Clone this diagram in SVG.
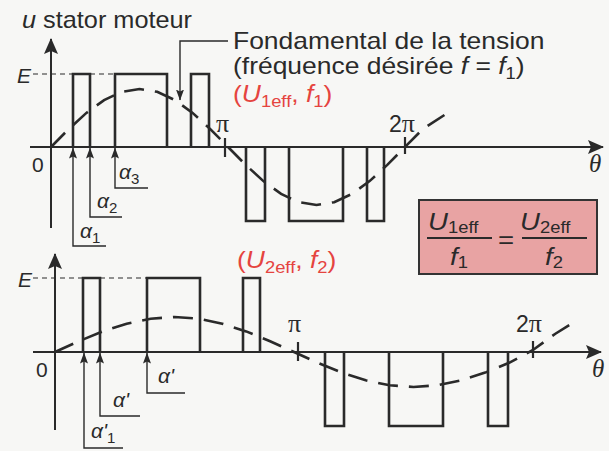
<svg xmlns="http://www.w3.org/2000/svg" width="609" height="451" viewBox="0 0 609 451">
<defs>
<style>
.ax{fill:none;stroke:#2a2a2a;stroke-width:2}
.wave{fill:none;stroke:#2a2a2a;stroke-width:2.6;stroke-linejoin:miter}
.fund{fill:none;stroke:#2a2a2a;stroke-width:2.6;stroke-dasharray:20 11}
.lvl{fill:none;stroke:#2a2a2a;stroke-width:1.2;stroke-dasharray:5 4}
.tick{fill:none;stroke:#2a2a2a;stroke-width:2.2}
.lead{fill:none;stroke:#2a2a2a;stroke-width:1.4}
.t{font-family:"Liberation Sans",Arial,sans-serif;fill:#2a2a2a}
.s{font-family:"Liberation Serif","Times New Roman",serif;fill:#2a2a2a}
.red{fill:#e5443f}
.i{font-style:italic}
</style>
<marker id="arrBig" viewBox="0 0 16 14" refX="15" refY="7" markerWidth="16" markerHeight="14" markerUnits="userSpaceOnUse" orient="auto">
<path d="M0,0 L16,7 L0,14 L3,7 Z" fill="#2a2a2a"/>
</marker>
<marker id="arrSm" viewBox="0 0 11 8" refX="10.5" refY="4" markerWidth="11" markerHeight="8" markerUnits="userSpaceOnUse" orient="auto">
<path d="M0,0 L11,4 L0,8 L2,4 Z" fill="#2a2a2a"/>
</marker>
</defs>
<rect x="0" y="0" width="609" height="451" fill="#f7f7f5"/>

<g id="top-graph">
<g id="top-axes">
<line class="ax" x1="51" y1="228" x2="51" y2="39" marker-end="url(#arrBig)"/>
<line class="ax" x1="30" y1="147" x2="603" y2="147" marker-end="url(#arrBig)"/>
<path class="lvl" d="M33,74 H73 M90,74 H115"/>
<line class="tick" x1="225" y1="138" x2="225" y2="157"/>
<line class="tick" x1="405" y1="137" x2="405" y2="154"/>
</g>
<g id="top-waveform">
<path class="wave" d="M73,147 V74 H90 V147 M115,147 V74 H167 V147 M191,147 V74 H209 V147 M246,147 V221 H265 V147 M289,147 V221 H343 V147 M367,147 V221 H384 V147"/>
</g>
<g id="top-fundamental">
<polyline class="fund" points="51,147 68.7,129.1 86.4,112.9 104.1,100.1 121.8,91.8 139.5,89 157.2,91.8 174.9,100.1 192.6,112.9 210.3,129.1 228,147 245.7,164.9 263.4,181.1 281.1,193.9 298.8,202.2 316.5,205 334.2,202.2 351.9,193.9 369.6,181.1 387.3,164.9 405,147 422.7,129.1 446,114"/>
</g>
<g id="top-labels">
<text class="t" transform="translate(22,28) scale(1.1,1)" font-size="23"><tspan class="i">u</tspan> stator moteur</text>
<text class="t i" x="17" y="83" font-size="21">E</text>
<text class="t" x="32" y="172" font-size="21">0</text>
<text class="s" x="216" y="132" font-size="26">π</text>
<text class="t" x="389" y="132" font-size="23">2<tspan class="s" font-size="26">π</tspan></text>
<text class="s i" x="589" y="172" font-size="25">θ</text>
<text class="t" transform="translate(233,49) scale(1.15,1)" font-size="23">Fondamental de la tension</text>
<text class="t" transform="translate(233,74) scale(1.15,1)" font-size="23">(fréquence désirée <tspan class="i">f</tspan> = <tspan class="i">f</tspan><tspan font-size="16" dy="5">1</tspan><tspan dy="-5">)</tspan></text>
<text class="t red" transform="translate(233,102) scale(1.15,1)" font-size="23">(<tspan class="i">U</tspan><tspan font-size="16" dy="5">1eff</tspan><tspan dy="-5">, </tspan><tspan class="i">f</tspan><tspan font-size="16" dy="5">1</tspan><tspan dy="-5">)</tspan></text>
<text class="t i" x="80" y="238" font-size="21">α<tspan font-size="15" dy="5" font-style="normal">1</tspan></text>
<text class="t i" x="97" y="208" font-size="21">α<tspan font-size="15" dy="5" font-style="normal">2</tspan></text>
<text class="t i" x="119" y="179" font-size="21">α<tspan font-size="15" dy="5" font-style="normal">3</tspan></text>
</g>
</g>

<g id="bottom-graph">
<g id="bottom-axes">
<line class="ax" x1="55" y1="430" x2="55" y2="254" marker-end="url(#arrBig)"/>
<line class="ax" x1="33" y1="352" x2="601" y2="352" marker-end="url(#arrBig)"/>
<path class="lvl" d="M33,278 H83 M100,278 H147"/>
<line class="tick" x1="298" y1="342" x2="298" y2="361"/>
<line class="tick" x1="533" y1="341" x2="533" y2="358"/>
</g>
<g id="bottom-waveform">
<path class="wave" d="M83,352 V278 H100 V352 M147,352 V278 H200 V352 M243,352 V278 H260 V352 M325,352 V426 H344 V352 M389,352 V426 H443 V352 M488,352 V426 H508 V352"/>
</g>
<g id="bottom-fundamental">
<polyline class="fund" points="55,352 78.9,341.2 102.8,331.4 126.7,323.7 150.6,318.7 174.5,317 198.4,318.7 222.3,323.7 246.2,331.4 270.1,341.2 294,352 317.9,362.8 341.8,372.6 365.7,380.3 389.6,385.3 413.5,387 437.4,385.3 461.3,380.3 485.2,372.6 509.1,362.8 533,350 555,334 576,321"/>
</g>
<g id="bottom-labels">
<text class="t i" x="18" y="287" font-size="21">E</text>
<text class="t" x="36" y="377" font-size="21">0</text>
<text class="s" x="288" y="332" font-size="26">π</text>
<text class="t" x="516" y="332" font-size="23">2<tspan class="s" font-size="26">π</tspan></text>
<text class="s i" x="592" y="377" font-size="25">θ</text>
<text class="t red" transform="translate(237,268) scale(1.15,1)" font-size="23">(<tspan class="i">U</tspan><tspan font-size="16" dy="5">2eff</tspan><tspan dy="-5">, </tspan><tspan class="i">f</tspan><tspan font-size="16" dy="5">2</tspan><tspan dy="-5">)</tspan></text>
<text class="t i" x="91" y="438" font-size="21">α'<tspan font-size="15" dy="5" font-style="normal">1</tspan></text>
<text class="t i" x="113" y="407" font-size="21">α'</text>
<text class="t i" x="158" y="383" font-size="21">α'</text>
</g>
</g>

<g id="formula">
<rect x="419" y="200" width="178" height="74" fill="#e8a3a3" stroke="#333" stroke-width="2"/>
<text class="t" transform="translate(428,230) scale(1.15,1)" font-size="24"><tspan class="i">U</tspan><tspan font-size="16" dy="3">1eff</tspan></text>
<line x1="427" y1="238" x2="492" y2="238" stroke="#2a2a2a" stroke-width="2"/>
<text class="t" transform="translate(459,265) scale(1.15,1)" font-size="24" text-anchor="middle"><tspan class="i">f</tspan><tspan font-size="16" dy="3">1</tspan></text>
<text class="t" transform="translate(506,248) scale(1.15,1)" font-size="24" text-anchor="middle">=</text>
<text class="t" transform="translate(520,230) scale(1.15,1)" font-size="24"><tspan class="i">U</tspan><tspan font-size="16" dy="3">2eff</tspan></text>
<line x1="522" y1="238" x2="587" y2="238" stroke="#2a2a2a" stroke-width="2"/>
<text class="t" transform="translate(554,265) scale(1.15,1)" font-size="24" text-anchor="middle"><tspan class="i">f</tspan><tspan font-size="16" dy="3">2</tspan></text>
</g>

<g id="connectors">
<polyline class="lead" points="228,41 180,41 180,100" marker-end="url(#arrSm)"/>
<polyline class="lead" points="106,246 73,246 73,148" marker-end="url(#arrSm)"/>
<polyline class="lead" points="122,217 90,217 90,148" marker-end="url(#arrSm)"/>
<polyline class="lead" points="148,188 115,188 115,148" marker-end="url(#arrSm)"/>
<polyline class="lead" points="123,448 84,448 84,353" marker-end="url(#arrSm)"/>
<polyline class="lead" points="140,416 100,416 100,353" marker-end="url(#arrSm)"/>
<polyline class="lead" points="185,393 147,393 147,353" marker-end="url(#arrSm)"/>
</g>
</svg>
